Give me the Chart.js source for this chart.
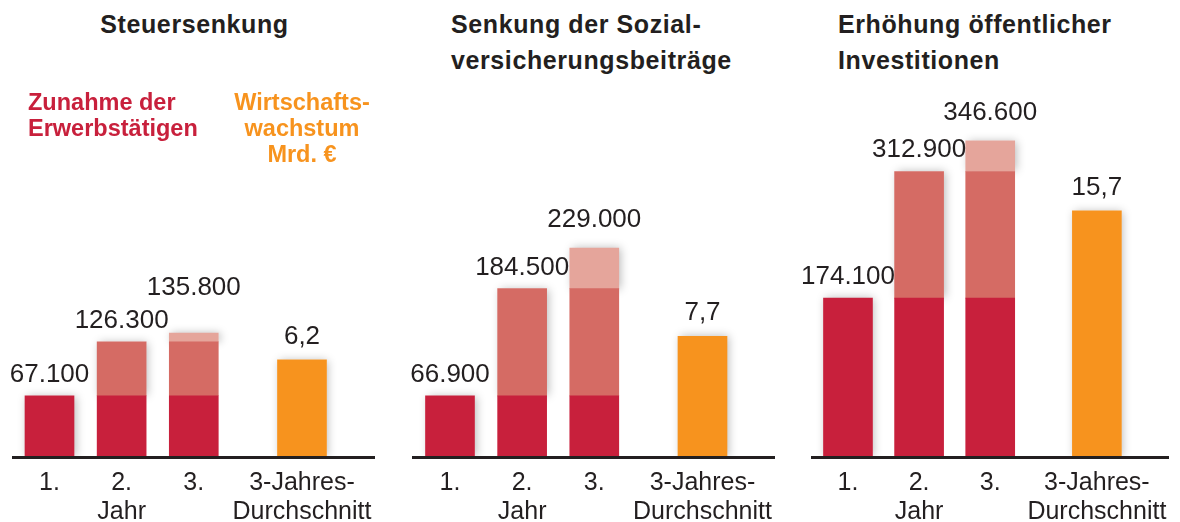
<!DOCTYPE html>
<html lang="de">
<head>
<meta charset="utf-8">
<script src="https://cdn.jsdelivr.net/npm/chart.js@4.4.0/dist/chart.umd.min.js"></script>
<style>
  html, body { margin: 0; padding: 0; background: #fff; }
  #wrap {
    position: relative; width: 1180px; height: 522px; overflow: hidden;
    font-family: "Liberation Sans", Arial, sans-serif; color: #231f20;
  }
  canvas { position: absolute; top: 0; }
  .title {
    position: absolute; top: 6px; font-weight: bold; font-size: 25px;
    line-height: 36px; letter-spacing: 0.6px; white-space: nowrap;
  }
  .key {
    position: absolute; top: 89px; font-weight: bold; font-size: 23.5px;
    line-height: 26px; white-space: nowrap;
  }
</style>
</head>
<body>
<div id="wrap"></div>
<script>
// === Data ===
const scenarios = [
  "Steuersenkung",
  "Senkung der Sozial-\nversicherungsbeiträge",
  "Erhöhung öffentlicher\nInvestitionen",
];
const categories = ["1.", "2.\nJahr", "3.", "3-Jahres-\nDurchschnitt"];
const jobsLabel = "Zunahme der\nErwerbstätigen";
const growthLabel = "Wirtschafts-\nwachstum\nMrd. €";

// cumulative increase in employed persons after year 1, 2, 3
const jobsTax = [67100, 126300, 135800];
const jobsSocial = [66900, 184500, 229000];
const jobsInvest = [174100, 312900, 346600];
// average economic growth over 3 years, bn €
const growth = [6.2, 7.7, 15.7];

const jobsByScenario = [jobsTax, jobsSocial, jobsInvest];

// === Layout and style ===
const FONT = "'Liberation Sans', Arial, sans-serif";
const INK = "#231f20";
const RED = "#c8203c";
const RED_MID = "#d56b64";
const RED_LIGHT = "#e5a59b";
const ORANGE = "#f7931e";

const slots = [1, 3, 5, 8]; // category slot of each bar, 11 slots on the axis
const nSlots = 11;
const unit = 36.07; // slot spacing in px
const panels = [
  { left: 0, width: 394, firstBar: 49.5, title: { left: 0, width: 389, align: "center" } },
  { left: 394, width: 396, firstBar: 450, title: { left: 451, align: "left" } },
  { left: 790, width: 390, firstBar: 848.5, title: { left: 838, align: "left" } },
];
const labelGap = [14, 14, 21];
const yMax = 400000;
const y2Max = 23.27;

// === Helpers ===
function fmtInt(v) {
  return String(v).replace(/\B(?=(\d{3})+(?!\d))/g, ".");
}
function fmtDec(v) {
  return v.toFixed(1).replace(".", ",");
}
function toSlots(values) {
  const arr = new Array(nSlots).fill(null);
  values.forEach((v, i) => {
    if (v !== null) arr[slots[i]] = v;
  });
  return arr;
}
function stackTop(chart, idx) {
  let top = null;
  for (let d = 0; d < 3; d++) {
    if (chart.data.datasets[d].data[idx] == null) continue;
    const el = chart.getDatasetMeta(d).data[idx];
    if (!top || el.y < top.y) top = { x: el.x, y: el.y, base: el.base, w: el.width };
  }
  return top;
}

// === Soft shadow behind each full bar ===
const shadowPlugin = {
  id: "barShadow",
  beforeDatasetsDraw(chart) {
    const ctx = chart.ctx;
    const area = chart.chartArea;
    ctx.save();
    ctx.beginPath();
    ctx.rect(0, 0, chart.width, area.bottom);
    ctx.clip();
    ctx.shadowColor = "rgba(0,0,0,0.28)";
    ctx.shadowBlur = 9;
    ctx.shadowOffsetX = 2;
    ctx.fillStyle = "#fff";
    slots.forEach((s, i) => {
      let r;
      if (i < 3) r = stackTop(chart, s);
      else {
        const el = chart.getDatasetMeta(3).data[s];
        r = { x: el.x, y: el.y, base: el.base, w: el.width };
      }
      ctx.fillRect(r.x - r.w / 2, r.y, r.w, r.base - r.y);
    });
    ctx.restore();
  },
};

// === Value labels above bars ===
function labelPlugin(jobs, g) {
  return {
    id: "barLabels",
    afterDatasetsDraw(chart) {
      const ctx = chart.ctx;
      ctx.save();
      ctx.font = "26px " + FONT;
      ctx.fillStyle = INK;
      ctx.textAlign = "center";
      ctx.textBaseline = "alphabetic";
      let prev = null;
      jobs.forEach((v, i) => {
        const top = stackTop(chart, slots[i]);
        const text = fmtInt(v);
        const w = ctx.measureText(text).width;
        let y = top.y - labelGap[i];
        if (prev && y > prev.y - 21 && Math.abs(top.x - prev.x) < (w + prev.w) / 2) {
          y = prev.y - 33;
        }
        ctx.fillText(text, top.x, y);
        prev = { x: top.x, y: y, w: w };
      });
      const el = chart.getDatasetMeta(3).data[slots[3]];
      ctx.fillText(fmtDec(g), el.x, el.y - 16);
      ctx.restore();
    },
  };
}

// === Build the three panels ===
const wrap = document.getElementById("wrap");
const tickLabels = toSlots(categories.map((c) => c.split("\n")));
tickLabels.forEach((t, i) => { if (t === null) tickLabels[i] = ""; });

panels.forEach((p, k) => {
  // title
  const t = document.createElement("div");
  t.className = "title";
  t.style.left = p.title.left + "px";
  if (p.title.width) t.style.width = p.title.width + "px";
  t.style.textAlign = p.title.align;
  t.innerHTML = scenarios[k].replace("\n", "<br>");
  wrap.appendChild(t);

  const canvas = document.createElement("canvas");
  canvas.width = p.width;
  canvas.height = 522;
  canvas.style.left = p.left + "px";
  wrap.appendChild(canvas);

  const jobs = jobsByScenario[k];
  const base = [jobs[0], jobs[0], jobs[0], null];
  const inc2 = [null, jobs[1] - jobs[0], jobs[1] - jobs[0], null];
  const inc3 = [null, null, jobs[2] - jobs[1], null];
  const avg = [null, null, null, growth[k]];

  const areaLeft = p.firstBar - unit;
  const areaRight = areaLeft + unit * (nSlots - 1);

  new Chart(canvas.getContext("2d"), {
    type: "bar",
    data: {
      labels: tickLabels,
      datasets: [
        { data: toSlots(base), backgroundColor: RED, yAxisID: "y" },
        { data: toSlots(inc2), backgroundColor: RED_MID, yAxisID: "y" },
        { data: toSlots(inc3), backgroundColor: RED_LIGHT, yAxisID: "y" },
        { data: toSlots(avg), backgroundColor: ORANGE, yAxisID: "y2" },
      ],
    },
    options: {
      responsive: false,
      animation: false,
      events: [],
      datasets: { bar: { barThickness: 49, borderWidth: 0 } },
      layout: {
        padding: {
          left: areaLeft - p.left,
          right: p.left + p.width - areaRight,
          top: 92,
          bottom: 0,
        },
      },
      scales: {
        x: {
          type: "category",
          offset: false,
          stacked: true,
          grid: { display: false, drawTicks: false },
          border: { display: true, color: INK, width: 3, z: 1 },
          ticks: {
            autoSkip: false,
            maxRotation: 0,
            minRotation: 0,
            color: INK,
            padding: 12,
            font: { family: FONT, size: 25, lineHeight: 1.16 },
          },
          afterFit(scale) {
            scale.height = 65;
          },
        },
        y: { display: false, stacked: true, min: 0, max: yMax },
        y2: { display: false, stacked: true, min: 0, max: y2Max },
      },
      plugins: {
        legend: { display: false },
        tooltip: { enabled: false },
      },
    },
    plugins: [shadowPlugin, labelPlugin(jobs, growth[k])],
  });
});

// === Colour key inside the first panel ===
const keyJobs = document.createElement("div");
keyJobs.className = "key";
keyJobs.style.left = "28px";
keyJobs.style.color = RED;
keyJobs.innerHTML = jobsLabel.replace("\n", "<br>");
wrap.appendChild(keyJobs);

const keyGrowth = document.createElement("div");
keyGrowth.className = "key";
keyGrowth.style.left = "202px";
keyGrowth.style.width = "200px";
keyGrowth.style.textAlign = "center";
keyGrowth.style.color = ORANGE;
keyGrowth.innerHTML = growthLabel.split("\n").join("<br>");
wrap.appendChild(keyGrowth);
</script>
</body>
</html>
